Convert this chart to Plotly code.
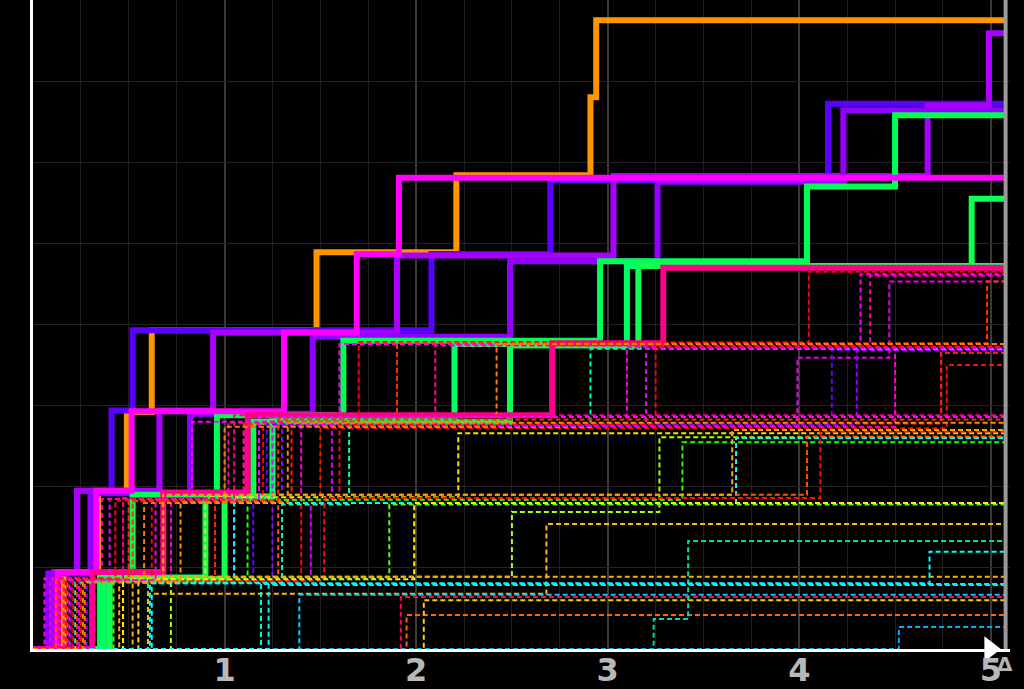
import plotly.graph_objects as go

X_END = 5.07

# ---- thick (solid) series: step times and levels ----
thick_names = ["orange", "blue", "purple1", "purple2", "green1", "green2", "green3", "magenta", "pink"]
thick_colors = ["#ff9500", "#5a00ff", "#aa00ff", "#9400ff", "#00ff55", "#00ff66", "#10ff50", "#ff00ff", "#ff0088"]
thick_t = [
    [0.16, 0.34, 0.49, 0.62, 1.48, 2.21, 2.91, 2.94],
    [0.11, 0.23, 0.41, 0.52, 2.08, 2.70, 4.15],
    [0.11, 0.23, 0.66, 0.94, 1.90, 3.03, 4.67, 4.99],
    [0.08, 0.30, 0.82, 1.46, 2.49, 3.26, 4.23],
    [0.35, 0.52, 0.96, 1.62, 2.96, 4.04, 4.50],
    [0.37, 0.90, 1.25, 2.20, 3.10],
    [0.40, 1.00, 1.15, 2.49, 3.16, 4.90],
    [0.13, 0.33, 0.515, 1.31, 1.69, 1.91],
    [0.31, 0.68, 1.12, 2.71, 3.29],
]
thick_y = [
    [0.95, 1.93, 2.92, 3.93, 4.89, 5.84, 6.80, 7.75],
    [0.95, 1.95, 2.94, 3.93, 4.87, 5.78, 6.72],
    [0.95, 1.95, 2.94, 3.90, 4.85, 5.83, 6.70, 7.59],
    [0.93, 1.92, 2.90, 3.85, 4.78, 5.76, 6.64],
    [0.90, 1.90, 2.88, 3.80, 4.78, 5.70, 6.58],
    [0.88, 1.88, 2.82, 3.76, 4.72],
    [0.86, 1.86, 2.80, 3.74, 4.72, 5.55],
    [0.95, 1.95, 2.93, 3.90, 4.87, 5.81],
    [0.95, 1.93, 2.88, 3.77, 4.70],
]

# ---- thin (dashed) series ----
dash_colors = [
    "#ff0000", "#ff00ff", "#ee00ee", "#ff2200", "#ff0a00", "#ff3300", "#6600ff", "#9900ff",
    "#ff00cc", "#ff00aa", "#00ffaa", "#ff00dd", "#dd00ff", "#ff0022", "#ff7700", "#ffdd00",
    "#aaff00", "#22ff00", "#00ffff", "#ff5500", "#ff1100", "#ffaa00", "#55ff00", "#ffee00",
    "#ffbb00", "#ffaa00", "#00ffff", "#00ccff", "#ff0055", "#ff6600", "#ffcc00", "#00ddaa",
    "#00aaff", "#00ffcc", "#00eeff", "#ff0088", "#ff00ff", "#ff2a00", "#ff8800",
]
dash_t = [
    [0.14, 0.62, 1.20, 1.70, 4.05], [0.06, 0.40, 0.83, 1.60, 4.32], [0.09, 1.05, 1.25, 3.99, 4.47],
    [0.20, 0.95, 1.35, 4.74], [0.25, 1.40, 1.50, 4.77], [0.18, 0.52, 1.10, 1.90, 4.98],
    [0.20, 1.15, 1.22, 4.17], [0.28, 1.25, 1.30, 4.30], [0.30, 0.72, 1.10, 4.50],
    [0.13, 0.36, 1.02, 2.10, 4.37], [0.22, 1.30, 1.65, 2.91], [0.16, 0.50, 1.40, 3.10],
    [0.24, 1.45, 1.56, 3.20], [0.17, 0.43, 1.60, 3.25], [0.27, 0.58, 1.00, 2.42],
    [0.55, 0.90, 2.22], [0.72, 2.50, 3.27], [0.60, 1.12, 3.39], [0.62, 1.05, 3.67],
    [0.12, 1.28, 4.04], [0.21, 1.52, 4.11], [0.45, 0.68, 3.65], [0.42, 1.86], [0.47, 1.99],
    [0.60, 2.68], [0.52], [0.61, 4.68], [1.39], [1.92], [1.95], [2.04], [3.24, 3.42],
    [4.52], [1.19], [1.23], [0.11, 0.47, 1.05], [0.19, 0.64, 1.18], [0.23, 0.50, 1.28],
    [0.26, 0.77, 1.33],
]
dash_y = [
    [0.86, 1.84, 2.80, 3.78, 4.65], [0.87, 1.85, 2.80, 3.76, 4.62], [0.85, 1.83, 2.75, 3.59, 4.53],
    [0.84, 1.80, 2.78, 3.65], [0.83, 1.78, 2.72, 3.50], [0.86, 1.82, 2.77, 3.77, 4.53],
    [0.84, 1.82, 2.77, 3.69], [0.83, 1.80, 2.76, 3.68], [0.84, 1.81, 2.74, 3.70],
    [0.87, 1.85, 2.79, 3.74, 4.60], [0.82, 1.78, 2.74, 3.70], [0.85, 1.83, 2.76, 3.72],
    [0.84, 1.80, 2.75, 3.71], [0.86, 1.83, 2.77, 3.73], [0.84, 1.80, 2.74, 3.76],
    [0.82, 1.87, 2.66], [0.89, 1.69, 2.61], [0.82, 1.84, 2.55], [0.81, 1.80, 2.60],
    [0.85, 1.90, 2.62], [0.84, 1.86, 2.68], [0.86, 1.90, 2.70], [0.88, 1.78], [0.86, 1.80],
    [0.68, 1.54], [0.89], [0.81, 1.20], [0.67], [0.64], [0.42], [0.60], [0.37, 1.33],
    [0.27], [0.80], [0.79], [0.87, 1.86, 2.88], [0.85, 1.84, 2.86], [0.86, 1.83, 2.83],
    [0.83, 1.81, 2.79],
]

x_ticks = [1, 2, 3, 4, 5]
x_labels = ["1", "2", "3", "4", "5"]


def steps(t, y):
    return [0] + list(t) + [X_END], [0] + list(y) + [y[-1]]


fig = go.Figure()

for name, c, t, y in zip(thick_names, thick_colors, thick_t, thick_y):
    xs, ys = steps(t, y)
    fig.add_trace(go.Scatter(x=xs, y=ys, mode="lines", name=name, line=dict(color=c, width=6, shape="hv"),
                             hoverinfo="skip"))

for c, t, y in zip(dash_colors, dash_t, dash_y):
    xs, ys = steps(t, y)
    fig.add_trace(go.Scatter(x=xs, y=ys, mode="lines", line=dict(color=c, width=2, shape="hv", dash="5px,3px"),
                             hoverinfo="skip"))

# axis arrow head
fig.add_trace(go.Scatter(x=[4.995], y=[0.0], mode="markers", cliponaxis=False, hoverinfo="skip",
                         marker=dict(symbol="triangle-right", size=22, color="white", line=dict(width=0))))

fig.add_shape(type="line", x0=5.077, x1=5.077, y0=0, y1=8, xref="x", yref="y",
              line=dict(color="#9a9a9a", width=4), layer="above")

pw = 1024 - 33 - 14
ph = 689 - 0 - 40
fig.add_annotation(x=(1005 - 33) / pw, y=(649 - 664) / ph, xref="paper", yref="paper",
                   xanchor="center", yanchor="middle", text="Δ", showarrow=False,
                   font=dict(size=20, color="#b4b4b4", family="DejaVu Sans", weight="bold"))

fig.update_layout(
    width=1024, height=689,
    margin=dict(l=33, r=14, t=0, b=40, autoexpand=False),
    paper_bgcolor="black", plot_bgcolor="black",
    showlegend=False,
    xaxis=dict(range=[0, 5.1], tickvals=x_ticks, ticktext=x_labels, showgrid=True, automargin=False,
               gridcolor="#3a3a3a", gridwidth=2, zeroline=False, showline=True, linecolor="white",
               linewidth=3, ticks="", ticklabelstandoff=-9,
               tickfont=dict(size=32, color="#b8b8b8", family="DejaVu Sans", weight="bold"),
               minor=dict(dtick=0.25, showgrid=True, gridcolor="#1f1f1f", gridwidth=1)),
    yaxis=dict(range=[0, 8], dtick=1, showticklabels=False, showgrid=True, gridcolor="#232323",
               automargin=False,
               gridwidth=1, zeroline=False, showline=True, linecolor="white", linewidth=3, ticks=""),
)

fig.write_html("out.html")
